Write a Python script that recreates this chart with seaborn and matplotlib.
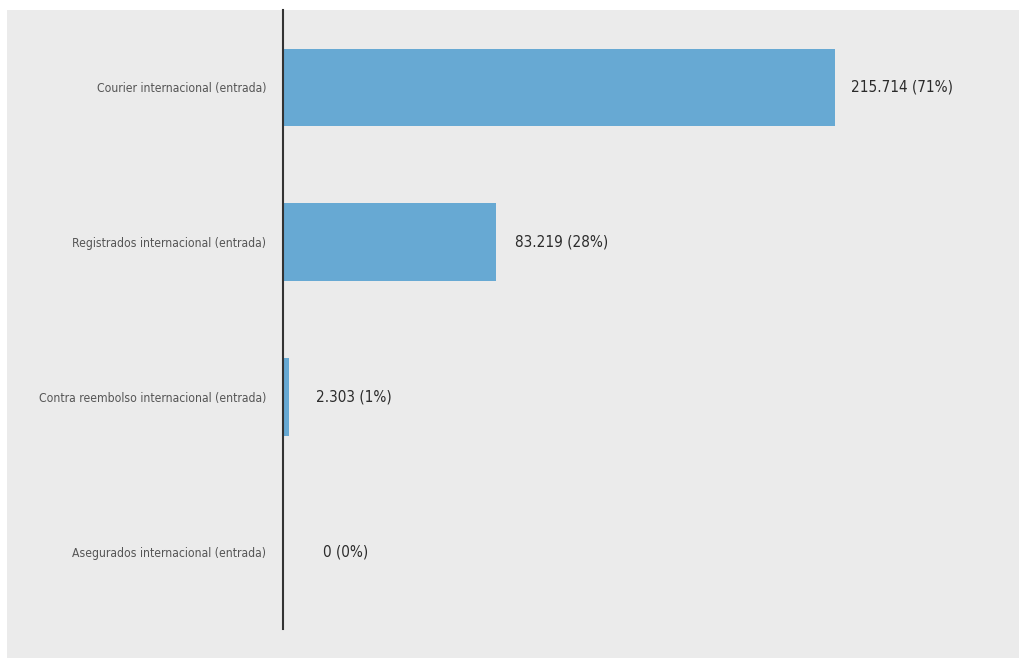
import matplotlib
matplotlib.use("Agg")
import matplotlib.pyplot as plt
import seaborn as sns
import pandas as pd
from matplotlib.patches import Rectangle

categories = [
    "Courier internacional (entrada)",
    "Registrados internacional (entrada)",
    "Contra reembolso internacional (entrada)",
    "Asegurados internacional (entrada)",
]
values = [215714, 83219, 2303, 0]
percents = [71, 28, 1, 0]

df = pd.DataFrame({"cat": categories, "val": values})

sns.set_theme(style="white")
plt.rcParams["font.family"] = ["DejaVu Sans"]
plt.rcParams["font.stretch"] = "condensed"

W, H = 1020, 658
fig = plt.figure(figsize=(W / 100, H / 100), dpi=100, facecolor="white")
panel_color = "#ebebeb"
fig.patches.append(Rectangle((7 / W, 0), 1 - 7 / W, 1 - 10 / H,
                             transform=fig.transFigure, facecolor=panel_color,
                             edgecolor="none", zorder=-10))

ax = fig.add_axes([283 / W, 1 - 629 / H, (W - 283) / W, (629 - 10) / H])
ax.set_facecolor(panel_color)

sns.barplot(data=df, y="cat", x="val", orient="h", color="#67a9d3",
            saturation=1, width=0.5, linewidth=0, ax=ax)

ax.set_xlim(0, (W - 283) / (552 / 215714))
ax.set_ylim(3.5, -0.5)

label_pad_px = [16, 19, 27, 40]  # layout: gap between bar end and its label
for i, (v, p) in enumerate(zip(values, percents)):
    txt = f"{v:,}".replace(",", ".") + f" ({p}%)"
    ax.annotate(txt, xy=(v, i), xytext=(label_pad_px[i], 0),
                textcoords="offset pixels",
                va="center", ha="left", fontsize=11, color="#2b2b2b")

ax.set_xlabel("")
ax.set_ylabel("")
ax.set_xticks([])
ax.tick_params(axis="y", length=0, pad=12, labelsize=8.7, labelcolor="#555555")
for s in ["top", "right", "bottom"]:
    ax.spines[s].set_visible(False)
ax.spines["left"].set_color("#333333")
ax.spines["left"].set_linewidth(1.5)

fig.savefig("out.png", dpi=100, facecolor="white")
